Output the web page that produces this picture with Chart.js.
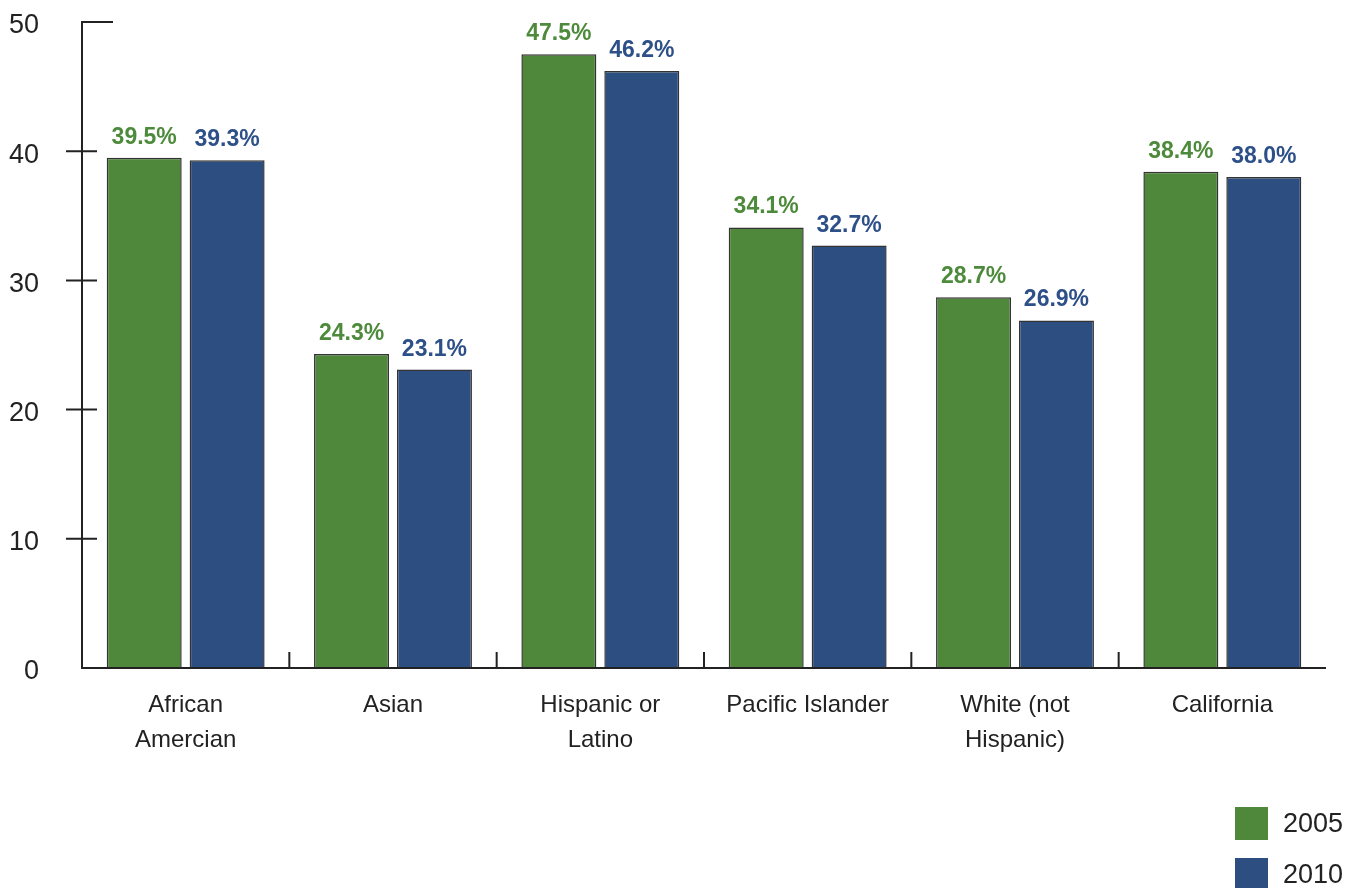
<!DOCTYPE html>
<html>
<head>
<meta charset="utf-8">
<script src="https://cdn.jsdelivr.net/npm/chart.js@4.4.1/dist/chart.umd.min.js"></script>
<style>
  html, body { margin: 0; padding: 0; background: #ffffff; }
  #wrap { width: 1353px; height: 888px; position: relative; }
</style>
</head>
<body>
<div id="wrap"><canvas id="c" width="1353" height="888"></canvas></div>
<script>
const categories = [["African", "Amercian"], "Asian", ["Hispanic or", "Latino"], "Pacific Islander", ["White (not", "Hispanic)"], "California"];
const seriesNames = ["2005", "2010"];
const values2005 = [39.5, 24.3, 47.5, 34.1, 28.7, 38.4];
const values2010 = [39.3, 23.1, 46.2, 32.7, 26.9, 38.0];
const yTicks = [0, 10, 20, 30, 40, 50];

const GREEN = '#4f873b';
const BLUE = '#2d4e80';
const GREEN_TXT = '#4e8a3b';
const BLUE_TXT = '#2e5088';
const AXIS = '#222222';
const SANS = '"Liberation Sans", Arial, sans-serif';

const decor = {
  id: 'decor',
  afterDatasetsDraw(chart) {
    const ctx = chart.ctx;
    const xs = chart.scales.x, ys = chart.scales.y;
    const left = chart.chartArea.left, right = chart.chartArea.right;
    const y0 = ys.getPixelForValue(0), yTop = ys.getPixelForValue(50);
    ctx.save();
    ctx.strokeStyle = AXIS;
    ctx.lineWidth = 2;
    ctx.beginPath();
    ctx.moveTo(left + 31, yTop); ctx.lineTo(left, yTop); ctx.lineTo(left, y0);
    ctx.lineTo(right, y0);
    yTicks.forEach(v => {
      if (v === 0 || v === 50) return;
      const p = ys.getPixelForValue(v);
      ctx.moveTo(left - 16, p); ctx.lineTo(left + 15, p);
    });
    const n = categories.length;
    const cw = (xs.getPixelForValue(1) - xs.getPixelForValue(0));
    for (let i = 0; i < n - 1; i++) {
      const p = xs.getPixelForValue(i) + cw / 2;
      ctx.moveTo(p, y0); ctx.lineTo(p, y0 - 16);
    }
    ctx.stroke();

    const txtColors = [GREEN_TXT, BLUE_TXT];
    ctx.font = 'bold 23px ' + SANS;
    ctx.textAlign = 'center';
    ctx.textBaseline = 'alphabetic';
    chart.data.datasets.forEach((ds, di) => {
      const meta = chart.getDatasetMeta(di);
      ctx.fillStyle = txtColors[di];
      meta.data.forEach((bar, i) => {
        ctx.fillText(ds.data[i].toFixed(1) + '%', bar.x, bar.y - 14);
      });
    });

    ctx.font = '27px ' + SANS;
    ctx.textAlign = 'left';
    ctx.textBaseline = 'middle';
    chart.data.datasets.forEach((ds, di) => {
      const top = 807 + di * 51;
      ctx.fillStyle = ds.backgroundColor;
      ctx.fillRect(1235, top, 33, 33);
      ctx.fillStyle = AXIS;
      ctx.fillText(ds.label, 1283, top + 18);
    });
    ctx.restore();
  }
};

new Chart(document.getElementById('c'), {
  type: 'bar',
  data: {
    labels: categories,
    datasets: [
      { label: seriesNames[0], data: values2005, backgroundColor: GREEN, borderColor: '#333333', borderWidth: 1.5 },
      { label: seriesNames[1], data: values2010, backgroundColor: BLUE, borderColor: '#333333', borderWidth: 1.5 }
    ]
  },
  options: {
    responsive: false,
    animation: false,
    devicePixelRatio: 1,
    categoryPercentage: 0.8,
    barPercentage: 0.904,
    layout: { padding: { top: 22, right: 27, left: 0, bottom: 0 } },
    plugins: { legend: { display: false }, tooltip: { enabled: false } },
    scales: {
      x: {
        grid: { display: false, drawTicks: false },
        border: { display: false },
        ticks: {
          color: AXIS,
          font: { family: SANS, size: 24, lineHeight: 1.45 },
          padding: 20,
          maxRotation: 0,
          autoSkip: false
        },
        afterFit(s) { s.height = 888 - 668; s.paddingLeft = 0; s.paddingRight = 0; }
      },
      y: {
        min: 0, max: 50,
        grid: { display: false, drawTicks: false },
        border: { display: false },
        afterBuildTicks(s) { s.ticks = yTicks.map(v => ({ value: v })); },
        ticks: {
          color: AXIS,
          font: { family: SANS, size: 27 },
          padding: 43,
          labelOffset: 4
        },
        afterFit(s) { s.width = 82; s.paddingTop = 0; s.paddingBottom = 0; }
      }
    }
  },
  plugins: [decor]
});
</script>
</body>
</html>
